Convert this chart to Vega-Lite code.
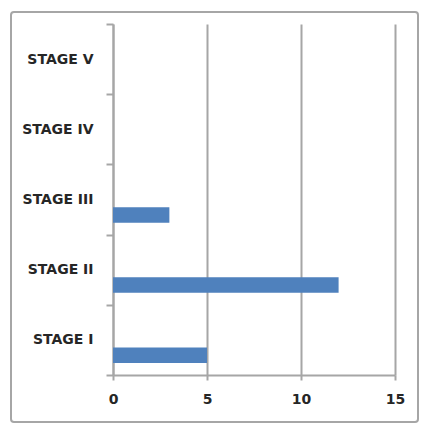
{
  "$schema": "https://vega.github.io/schema/vega-lite/v6.json",
  "width": 407,
  "height": 410,
  "autosize": {"type": "none"},
  "padding": {"left": 11, "top": 12, "right": 4, "bottom": 6},
  "background": "white",
  "config": {
    "view": {"stroke": "#a6a6a6", "strokeWidth": 2, "cornerRadius": 3, "fill": "white"},
    "axis": {
      "labelFont": "DejaVu Sans",
      "labelFontSize": 14,
      "labelFontWeight": "bold",
      "labelColor": "#262626",
      "domainColor": "#a6a6a6",
      "domainWidth": 2,
      "tickColor": "#a6a6a6",
      "tickWidth": 2,
      "title": null
    }
  },
  "data": {
    "values": [
      {"stage": "STAGE V", "value": 0},
      {"stage": "STAGE IV", "value": 0},
      {"stage": "STAGE III", "value": 3},
      {"stage": "STAGE II", "value": 12},
      {"stage": "STAGE  I", "value": 5}
    ]
  },
  "encoding": {
    "y": {
      "field": "stage",
      "type": "nominal",
      "sort": null,
      "scale": {
        "domain": ["STAGE V", "STAGE IV", "STAGE III", "STAGE II", "STAGE  I"],
        "range": [12, 363],
        "paddingInner": 0,
        "paddingOuter": 0
      },
      "axis": {
        "tickBand": "extent",
        "offset": -102,
        "tickSize": 7,
        "labelPadding": 13,
        "grid": false
      }
    }
  },
  "layer": [
    {
      "mark": {"type": "bar", "opacity": 0, "height": {"band": 0.221}, "yOffset": 15.4},
      "encoding": {
        "x": {
          "field": "value",
          "type": "quantitative",
          "scale": {"domain": [0, 15], "range": [102, 384], "nice": false, "zero": true},
          "axis": {
            "orient": "top",
            "values": [0, 5, 10, 15],
            "offset": 0,
            "grid": true,
            "gridColor": "#a6a6a6",
            "gridWidth": 2,
            "domain": false,
            "ticks": false,
            "labels": false
          }
        }
      }
    },
    {
      "mark": {"type": "bar", "color": "#4f81bd", "height": {"band": 0.221}, "yOffset": 15.4},
      "encoding": {
        "x": {
          "field": "value",
          "type": "quantitative",
          "scale": {"domain": [0, 15], "range": [102, 384], "nice": false, "zero": true},
          "axis": {
            "orient": "bottom",
            "values": [0, 5, 10, 15],
            "offset": -47,
            "grid": false,
            "tickSize": 5,
            "labelPadding": 12,
            "labelFlush": false
          }
        }
      }
    }
  ],
  "resolve": {"axis": {"x": "independent"}}
}
